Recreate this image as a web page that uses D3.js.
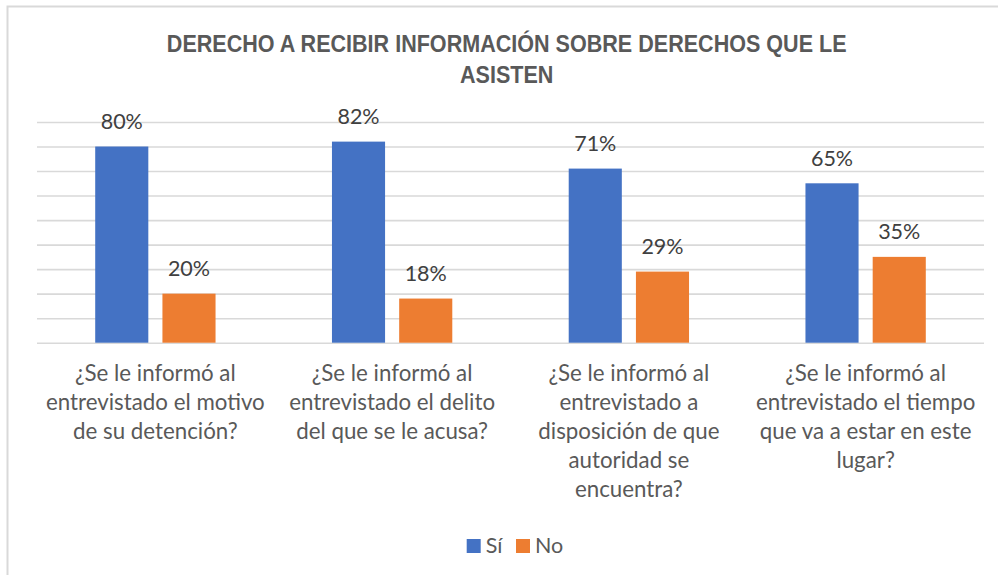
<!DOCTYPE html>
<html>
<head>
<meta charset="utf-8">
<script src="https://cdn.jsdelivr.net/npm/d3@7"></script>
<style>
  body { margin: 0; background: #fff; }
  text { font-family: Lato, "Open Sans", sans-serif; }
</style>
</head>
<body>
<div id="chart"></div>
<script>
// data
const categories = ['c1', 'c2', 'c3', 'c4'];
const categoryLines = [
    ['¿Se le informó al', 'entrevistado el motivo', 'de su detención?'],
    ['¿Se le informó al', 'entrevistado el delito', 'del que se le acusa?'],
    ['¿Se le informó al', 'entrevistado a', 'disposición de que', 'autoridad se', 'encuentra?'],
    ['¿Se le informó al', 'entrevistado el tiempo', 'que va a estar en este', 'lugar?']
];
const seriesNames = ['Sí', 'No'];
const siValues = [0.80, 0.82, 0.71, 0.65];
const noValues = [0.20, 0.18, 0.29, 0.35];
const seriesColors = ['#4472C4', '#ED7D31'];
const yTicks = [0, 0.1, 0.2, 0.3, 0.4, 0.5, 0.6, 0.7, 0.8, 0.9];
const titleLines = ['DERECHO A RECIBIR INFORMACIÓN SOBRE DERECHOS QUE LE', 'ASISTEN'];

const w = 998;
const h = 575;

const svg = d3.select('#chart')
    .append('svg')
    .attr('width', w)
    .attr('height', h);

// chart frame
svg.append('rect')
    .attr('x', 7.5)
    .attr('y', 6.5)
    .attr('width', w)
    .attr('height', h)
    .attr('fill', 'none')
    .attr('stroke', '#d9d9d9')
    .attr('stroke-width', 2);

const x0 = d3.scaleBand()
    .domain(categories)
    .range([37, 984]);

const x1 = d3.scaleBand()
    .domain(seriesNames)
    .range([0, x0.bandwidth()])
    .paddingInner(0.21)
    .paddingOuter(0.866);

const yScale = d3.scaleLinear()
    .domain([0, 0.9])
    .range([342.7, 122]);

// gridlines
const yAxis = d3.axisLeft(yScale)
    .tickValues(yTicks)
    .tickSize(-(984 - 37))
    .tickFormat('');

const grid = svg.append('g')
    .attr('transform', 'translate(37,0)')
    .call(yAxis);
grid.select('.domain').remove();
grid.selectAll('line')
    .attr('stroke', '#d9d9d9')
    .attr('stroke-width', 1.6);

const rows = categories.map((c, i) => ({
    cat: c,
    vals: [
        { key: 'Sí', value: siValues[i] },
        { key: 'No', value: noValues[i] }
    ]
}));

const groups = svg.selectAll('.group')
    .data(rows)
    .enter().append('g')
    .attr('class', 'group')
    .attr('transform', (d) => 'translate(' + x0(d.cat) + ',0)');

groups.selectAll('rect')
    .data((d) => d.vals)
    .enter().append('rect')
    .attr('x', (d) => x1(d.key))
    .attr('y', (d) => yScale(d.value))
    .attr('width', x1.bandwidth())
    .attr('height', (d) => yScale(0) - yScale(d.value))
    .attr('fill', (d, i) => seriesColors[i]);

groups.selectAll('.lbl')
    .data((d) => d.vals)
    .enter().append('text')
    .attr('class', 'lbl')
    .attr('x', (d) => x1(d.key) + x1.bandwidth() / 2)
    .attr('y', (d) => yScale(d.value) - 17.5)
    .attr('text-anchor', 'middle')
    .style('font-size', '21.5px')
    .attr('fill', '#404040')
    .text((d) => Math.round(d.value * 100) + '%');

// category labels
const catText = svg.selectAll('.cat')
    .data(categories)
    .enter().append('text')
    .attr('class', 'cat')
    .attr('text-anchor', 'middle')
    .style('font-size', '22.3px')
    .attr('fill', '#595959');

catText.each(function (d, i) {
    const t = d3.select(this);
    categoryLines[i].forEach(function (line, j) {
        t.append('tspan')
            .attr('x', x0(d) + x0.bandwidth() / 2)
            .attr('y', 381 + j * 29)
            .text(line);
    });
});

// title
const title = svg.append('g')
    .attr('id', 'title');
title.selectAll('text')
    .data(titleLines)
    .enter().append('text')
    .attr('x', 0)
    .attr('y', (d, i) => i * 31.6)
    .attr('text-anchor', 'middle')
    .style('font-family', '"Liberation Sans", Arial, sans-serif')
    .style('font-weight', 'bold')
    .style('font-size', '23px')
    .attr('fill', '#595959')
    .text((d) => d);
const tw = title.select('text').node().getComputedTextLength();
title.attr('transform', 'translate(506.7,51.7) scale(' + (680 / tw) + ',1)');

// legend
const legend = svg.selectAll('.legend')
    .data(seriesNames)
    .enter().append('g')
    .attr('class', 'legend')
    .attr('transform', (d, i) => 'translate(' + (466.7 + i * 49.3) + ',539)');

legend.append('rect')
    .attr('width', 14)
    .attr('height', 14)
    .attr('fill', (d, i) => seriesColors[i]);

legend.append('text')
    .attr('x', 19)
    .attr('y', 13.5)
    .style('font-size', '21.5px')
    .attr('fill', '#595959')
    .text((d) => d);
</script>
</body>
</html>
